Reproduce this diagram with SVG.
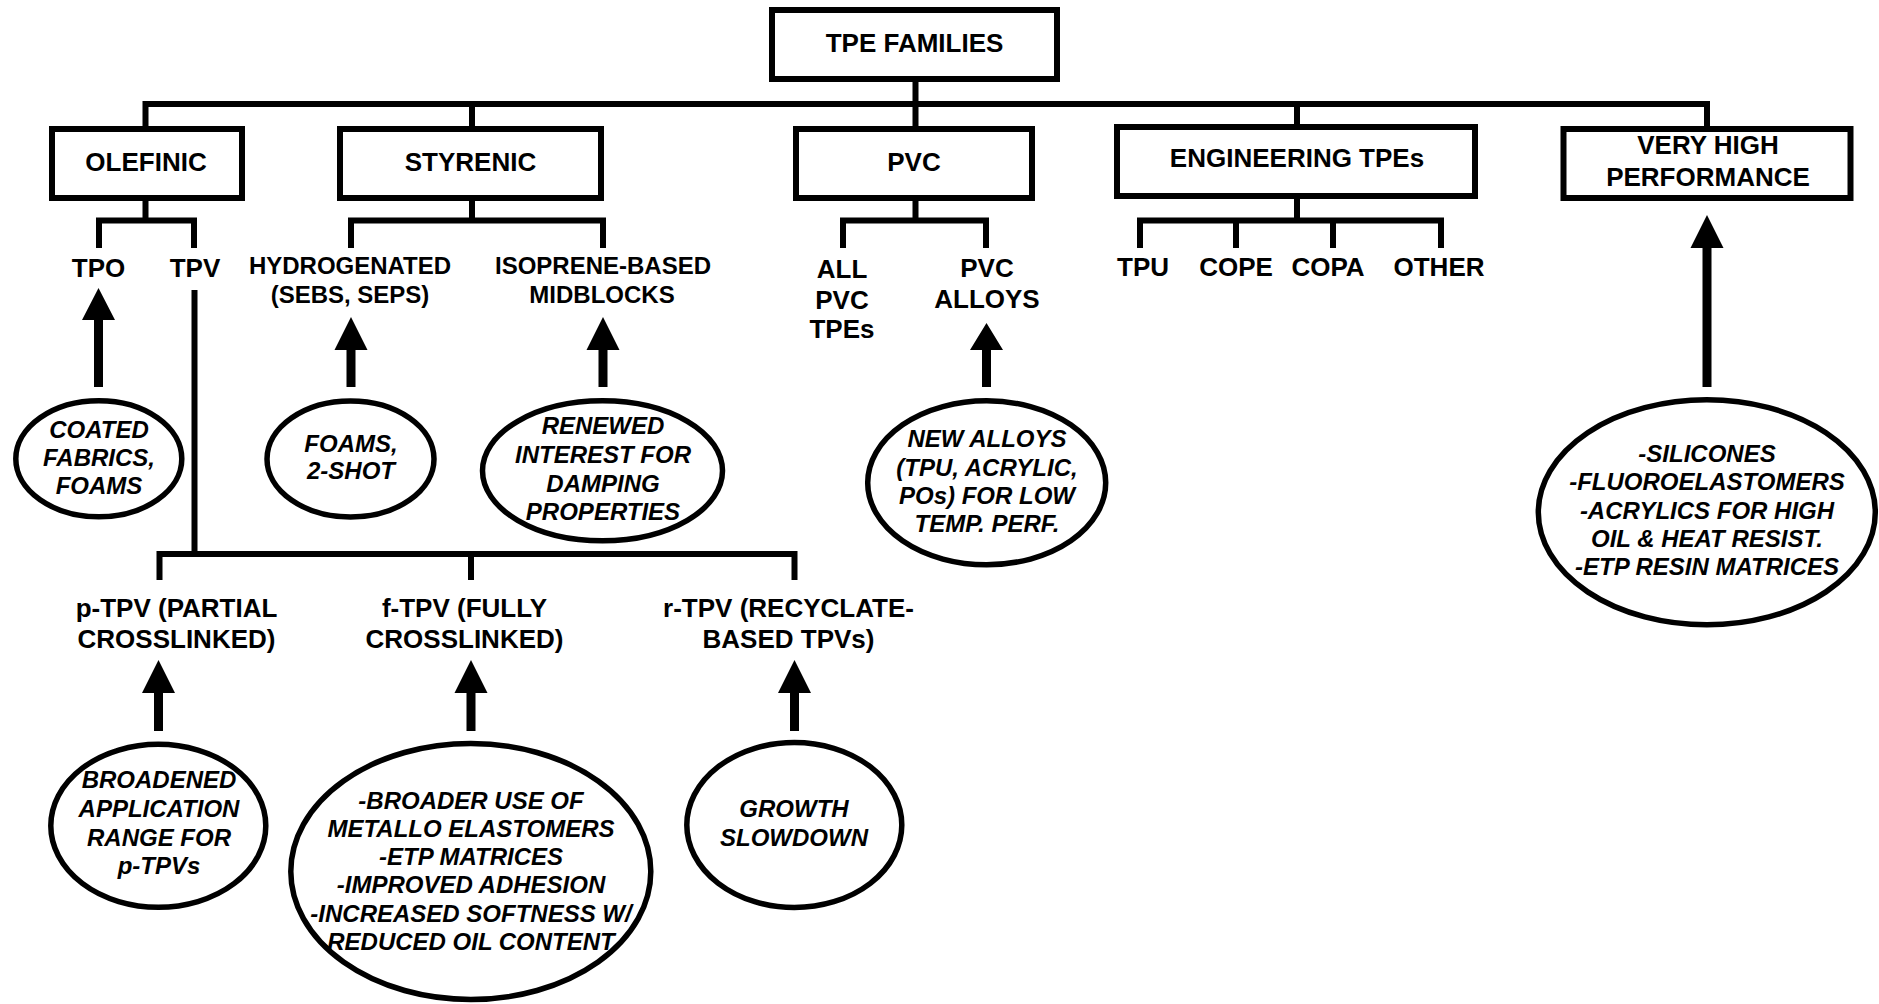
<svg xmlns="http://www.w3.org/2000/svg" width="1879" height="1004" viewBox="0 0 1879 1004">
<style>
.box{fill:#fff;stroke:#000;stroke-width:6}
.oval{fill:#fff;stroke:#000;stroke-width:5.5}
.ln{fill:none;stroke:#000;stroke-width:6;stroke-linecap:square}
.arr{fill:#000;stroke:none}
.t{font-family:"Liberation Sans",Arial,sans-serif;font-weight:bold;font-size:26px;text-anchor:middle;fill:#000}
.s{font-size:24px}
.i{font-family:"Liberation Sans",Arial,sans-serif;font-weight:bold;font-style:italic;font-size:24px;text-anchor:middle;fill:#000}
</style>
<rect width="1879" height="1004" fill="#fff"/>
<g id="connectors">
<path class="ln" d="M915.5,82 V126 M145.5,104 H1707 M145.5,104 V126 M472,104 V126 M1297,104 V124 M1707,104 V126"/>
<path class="ln" d="M145.5,201 V220.5 M99,220.5 H194 M99,220.5 V245 M194,220.5 V245"/>
<path class="ln" d="M472,201 V220.5 M351,220.5 H603 M351,220.5 V245 M603,220.5 V245"/>
<path class="ln" d="M915.5,201 V220.5 M843,220.5 H986 M843,220.5 V245 M986,220.5 V245"/>
<path class="ln" d="M1297,199 V220.5 M1140,220.5 H1441 M1140,220.5 V245 M1236,220.5 V245 M1333,220.5 V245 M1441,220.5 V245"/>
<path class="ln" d="M194.5,293 V554 M159.5,554 H794.5 M159.5,554 V577 M471,554 V577 M794.5,554 V577"/>
<path class="arr" d="M98.5,288 L115,320 L103,320 L103,387 L94,387 L94,320 L82,320 Z"/>
<path class="arr" d="M351,317 L367.5,350 L355.5,350 L355.5,387 L346.5,387 L346.5,350 L334.5,350 Z"/>
<path class="arr" d="M603,317 L619.5,350 L607.5,350 L607.5,387 L598.5,387 L598.5,350 L586.5,350 Z"/>
<path class="arr" d="M986.5,323 L1003,350 L991,350 L991,387 L982,387 L982,350 L970,350 Z"/>
<path class="arr" d="M1707,215 L1723.5,248 L1711.5,248 L1711.5,387 L1702.5,387 L1702.5,248 L1690.5,248 Z"/>
<path class="arr" d="M158.5,660 L175,693 L163,693 L163,731 L154,731 L154,693 L142,693 Z"/>
<path class="arr" d="M471,660 L487.5,693 L475.5,693 L475.5,731 L466.5,731 L466.5,693 L454.5,693 Z"/>
<path class="arr" d="M794.5,660 L811,693 L799,693 L799,731 L790,731 L790,693 L778,693 Z"/>
</g>
<g id="tpe-families"><rect class="box" x="772" y="10" width="285" height="69"/><text class="t" x="914.5" y="52">TPE FAMILIES</text></g>
<g id="olefinic"><rect class="box" x="52" y="129" width="190" height="69"/><text class="t" x="146" y="171">OLEFINIC</text></g>
<g id="styrenic"><rect class="box" x="340" y="129" width="261" height="69"/><text class="t" x="470.5" y="171">STYRENIC</text></g>
<g id="pvc"><rect class="box" x="796" y="129" width="236" height="69"/><text class="t" x="914" y="171">PVC</text></g>
<g id="engineering"><rect class="box" x="1117" y="127" width="358" height="69"/><text class="t" x="1297" y="167">ENGINEERING TPEs</text></g>
<g id="very-high"><rect class="box" x="1563.5" y="129" width="287" height="69"/><text class="t" x="1708" y="154">VERY HIGH</text><text class="t" x="1708" y="186">PERFORMANCE</text></g>
<g id="tpo"><text class="t" x="98.5" y="276.5">TPO</text></g>
<g id="tpv"><text class="t" x="195" y="276.5">TPV</text></g>
<g id="hydrogenated"><text class="t s" x="350" y="274">HYDROGENATED</text><text class="t s" x="350" y="302.5">(SEBS, SEPS)</text></g>
<g id="isoprene"><text class="t s" x="603" y="274">ISOPRENE-BASED</text><text class="t s" x="602" y="302.5">MIDBLOCKS</text></g>
<g id="all-pvc"><text class="t" x="842" y="277.5">ALL</text><text class="t" x="842" y="308.5">PVC</text><text class="t" x="842" y="338">TPEs</text></g>
<g id="pvc-alloys"><text class="t" x="987" y="277">PVC</text><text class="t" x="987" y="308">ALLOYS</text></g>
<g id="tpu"><text class="t" x="1143" y="276">TPU</text></g>
<g id="cope"><text class="t" x="1236" y="276">COPE</text></g>
<g id="copa"><text class="t" x="1328" y="276">COPA</text></g>
<g id="other"><text class="t" x="1439" y="276">OTHER</text></g>
<g id="p-tpv"><text class="t" x="176.5" y="616.5">p-TPV (PARTIAL</text><text class="t" x="176.5" y="648">CROSSLINKED)</text></g>
<g id="f-tpv"><text class="t" x="464.5" y="616.5">f-TPV (FULLY</text><text class="t" x="464.5" y="648">CROSSLINKED)</text></g>
<g id="r-tpv"><text class="t" x="788.5" y="616.5">r-TPV (RECYCLATE-</text><text class="t" x="788.5" y="648">BASED TPVs)</text></g>
<g id="coated"><ellipse class="oval" cx="98.8" cy="458.8" rx="83" ry="58"/><text class="i" x="99" y="438">COATED</text><text class="i" x="99" y="466">FABRICS,</text><text class="i" x="99" y="493.5">FOAMS</text></g>
<g id="foams"><ellipse class="oval" cx="350.5" cy="459" rx="83.5" ry="58"/><text class="i" x="351" y="451.5">FOAMS,</text><text class="i" x="351" y="479">2-SHOT</text></g>
<g id="renewed"><ellipse class="oval" cx="602.5" cy="470.8" rx="120" ry="70"/><text class="i" x="603" y="434">RENEWED</text><text class="i" x="603" y="463">INTEREST FOR</text><text class="i" x="603" y="491.5">DAMPING</text><text class="i" x="603" y="520">PROPERTIES</text></g>
<g id="new-alloys"><ellipse class="oval" cx="986.7" cy="482.8" rx="119" ry="82"/><text class="i" x="987" y="446.5">NEW ALLOYS</text><text class="i" x="987" y="475.5">(TPU, ACRYLIC,</text><text class="i" x="987" y="504">POs) FOR LOW</text><text class="i" x="987" y="531.5">TEMP. PERF.</text></g>
<g id="vhp-note"><ellipse class="oval" cx="1706.8" cy="512.3" rx="168.5" ry="112.5"/><text class="i" x="1707" y="461.5">-SILICONES</text><text class="i" x="1707" y="490">-FLUOROELASTOMERS</text><text class="i" x="1707" y="518.5">-ACRYLICS FOR HIGH</text><text class="i" x="1707" y="546.5">OIL &amp; HEAT RESIST.</text><text class="i" x="1707" y="574.5">-ETP RESIN MATRICES</text></g>
<g id="broadened"><ellipse class="oval" cx="158.3" cy="825.8" rx="107.5" ry="81.5"/><text class="i" x="159" y="788">BROADENED</text><text class="i" x="159" y="817">APPLICATION</text><text class="i" x="159" y="845.5">RANGE FOR</text><text class="i" x="159" y="873.5">p-TPVs</text></g>
<g id="broader-use"><ellipse class="oval" cx="470.8" cy="871.5" rx="180" ry="128"/><text class="i" x="471" y="809">-BROADER USE OF</text><text class="i" x="471" y="837">METALLO ELASTOMERS</text><text class="i" x="471" y="865">-ETP MATRICES</text><text class="i" x="471" y="893">-IMPROVED ADHESION</text><text class="i" x="471" y="921.5">-INCREASED SOFTNESS W/</text><text class="i" x="471" y="950">REDUCED OIL CONTENT</text></g>
<g id="growth"><ellipse class="oval" cx="794.3" cy="825" rx="107.5" ry="82.5"/><text class="i" x="794" y="817">GROWTH</text><text class="i" x="794" y="845.5">SLOWDOWN</text></g>
</svg>
